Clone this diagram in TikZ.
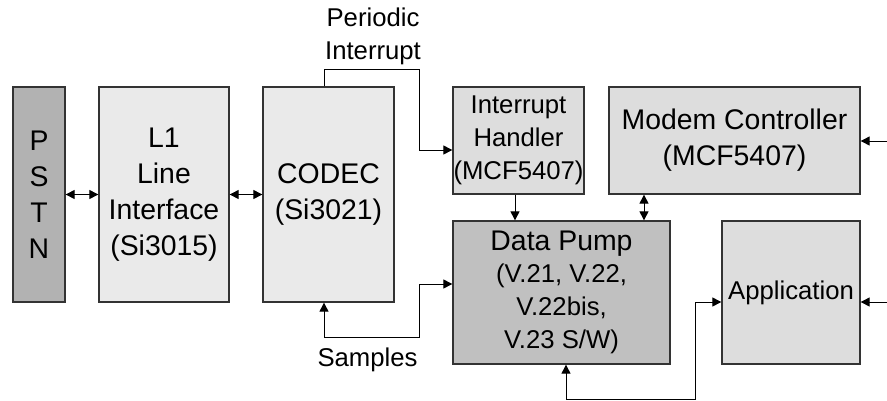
\documentclass[tikz,border=0pt]{standalone}
\usepackage{fontspec}
\setmainfont{Liberation Sans}
\usetikzlibrary{arrows.meta,calc}
\definecolor{pstncol}{HTML}{B2B2B2}
\definecolor{lightcol}{HTML}{EAEAEA}
\definecolor{midcol}{HTML}{DDDDDD}
\definecolor{dpcol}{HTML}{C0C0C0}
\definecolor{edgecol}{HTML}{333333}
\newcommand{\bigf}{\fontsize{28.4}{36}\selectfont}
\newcommand{\smf}{\fontsize{25.7}{33}\selectfont}
\begin{document}
\begin{tikzpicture}[x=1pt,y=-1pt,
  blk/.style={draw=edgecol,line width=1.3pt,inner sep=0pt,align=center,anchor=center},
  conn/.style={line width=1pt,black},
  tip/.tip={Triangle[length=9pt,width=9pt]},
  arr/.style={conn,-tip},
  biarr/.style={conn,tip-tip},
  lbl/.style={inner sep=0pt,align=center,font=\smf}]
\useasboundingbox (0,0) rectangle (887,400);
% boxes
\node[blk,fill=pstncol,minimum width=52pt,minimum height=215pt,font=\bigf] (pstn) at (39,194.5) {P\\S\\T\\N};
\node[blk,fill=lightcol,minimum width=130pt,minimum height=215pt,font=\bigf] (l1) at (164,194.5) {L1\\Line\\Interface\\(Si3015)};
\node[blk,fill=lightcol,minimum width=131pt,minimum height=215pt,font=\bigf] (codec) at (328.5,194.5) {CODEC\\(Si3021)};
\node[blk,fill=midcol,minimum width=131pt,minimum height=107pt,font=\smf] (ih) at (518.5,140.5) {Interrupt\\Handler\\(MCF5407)};
\node[blk,fill=midcol,minimum width=251pt,minimum height=107pt,font=\bigf] (mc) at (734.5,140.5) {Modem Controller\\(MCF5407)};
\node[blk,fill=dpcol,minimum width=217pt,minimum height=143pt,font=\smf] (dp) at (561.5,292.5) {{\bigf Data Pump}\\[-1pt](V.21, V.22,\\V.22bis,\\V.23 S/W)};
\node[blk,fill=midcol,minimum width=138pt,minimum height=143pt,font=\smf] (app) at (791,292.5) {Application};
% labels
\node[lbl] (plbl) at (373,36) {Periodic\\Interrupt};
\node[lbl] (slbl) at (367.5,360) {Samples};
% coordinates
\coordinate (pi1) at (419,69);
\coordinate (s1) at (419,337);
\coordinate (xmc) at (644,0);
\coordinate (inmc) at (887,141);
\coordinate (inapp) at (887,302);
\coordinate (b1) at (566,399.5);
\coordinate (b2) at (695,302);
% connectors
\draw[biarr] (pstn.east) -- (l1.west);
\draw[biarr] (l1.east) -- (codec.west);
\draw[arr] ([xshift=-4.5pt]codec.north) |- (pi1) |- ([yshift=-9.5pt]ih.west);
\draw[biarr] ([xshift=-4.5pt]codec.south) |- (s1) |- ([yshift=8.5pt]dp.west);
\draw[arr] ([xshift=-3.5pt]ih.south) -- ([xshift=-3.5pt]ih.south |- dp.north);
\draw[biarr] (mc.south -| xmc) -- (dp.north -| xmc);
\draw[arr] (inmc) -- (inmc -| mc.east);
\draw[arr] (inapp) -- (inapp -| app.east);
\draw[biarr] (b1 |- dp.south) -- (b1) -| (b2) -- (b2 -| app.west);
\end{tikzpicture}
\end{document}
